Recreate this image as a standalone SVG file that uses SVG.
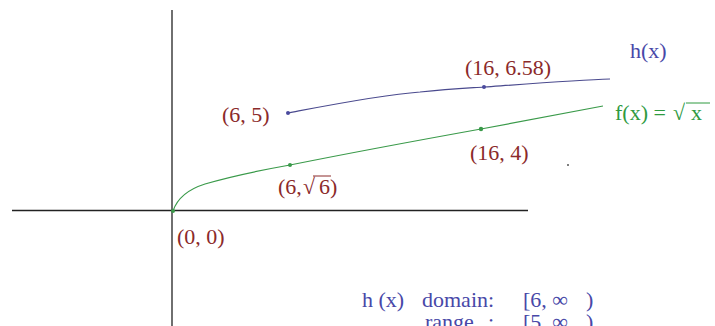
<svg xmlns="http://www.w3.org/2000/svg" width="715" height="326" viewBox="0 0 715 326">
<style>
text{font-family:"Liberation Serif","Times New Roman",serif;font-size:22px}
.pt{fill:#8b2a2a}
.bl{fill:#4848a8}
.gr{fill:#2f9a3f}
.axis{stroke:#222;stroke-width:1.3;fill:none}
</style>
<rect width="715" height="326" fill="#fff"/>
<g id="axes">
<line class="axis" x1="172" y1="10" x2="172" y2="326"/>
<line class="axis" x1="12" y1="210.5" x2="528" y2="210.5"/>
</g>
<g id="curves">
<path d="M173,211 C177,199 186,190 205,184 C235,175 262,170 290,165 C350,153 420,140 481,129 C530,120 570,112 603,106" fill="none" stroke="#3a9a4a" stroke-width="1.2"/>
<path d="M288,113 C330,105 380,95 420,92 C450,89 470,88 484,87 C540,83 580,80 610,79" fill="none" stroke="#4a4a8e" stroke-width="1.2"/>
<circle cx="173" cy="211" r="2" fill="#3a9a4a"/>
<circle cx="290" cy="165" r="2" fill="#3a9a4a"/>
<circle cx="481" cy="129" r="2.2" fill="#3a9a4a"/>
<circle cx="288" cy="113" r="2" fill="#4a4a9e"/>
<circle cx="484" cy="87" r="2" fill="#4a4a9e"/>
<circle cx="568" cy="165" r="1" fill="#555"/>
</g>
<g id="labels">
<text class="pt" x="222" y="122">(6, 5)</text>
<text class="pt" x="465" y="75">(16, 6.58)</text>
<text class="bl" x="630" y="58">h(x)</text>
<text class="gr" x="615" y="120">f(x) =<tspan x="673">√</tspan><tspan x="691">x</tspan></text>
<line x1="686" y1="103" x2="710" y2="103" stroke="#2f9a3f" stroke-width="1"/>
<text class="pt" x="470" y="160">(16, 4)</text>
<text class="pt" x="278" y="194">(6,<tspan x="303">√</tspan><tspan x="319">6</tspan><tspan x="330">)</tspan></text>
<line x1="313" y1="176" x2="331" y2="176" stroke="#8b2a2a" stroke-width="1"/>
<text class="pt" x="177" y="244">(0, 0)</text>
</g>
<g id="info">
<text class="bl" x="362" y="307">h (x)</text>
<text class="bl" x="422" y="307">domain:</text>
<text class="bl" x="523" y="307">[6, ∞<tspan x="586">)</tspan></text>
<text class="bl" x="425" y="329">range<tspan x="488">:</tspan></text>
<text class="bl" x="523" y="329">[5, ∞<tspan x="586">)</tspan></text>
</g>
</svg>
